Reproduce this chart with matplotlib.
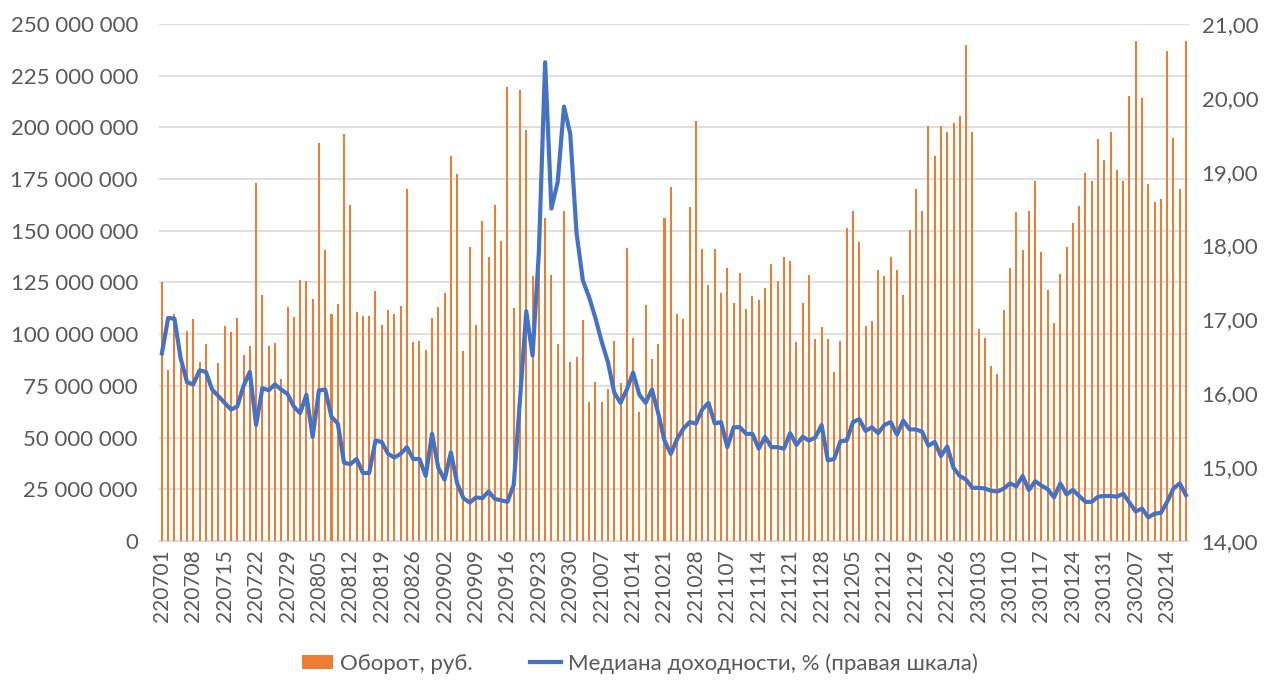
import matplotlib.pyplot as plt
from matplotlib.ticker import FuncFormatter
import numpy as np
import pandas as pd

# trading days (Moscow exchange), labels like 220701
trade_days = pd.bdate_range('2022-07-01', '2023-02-17', freq='C',
                            holidays=['2022-11-04', '2023-01-02'])
day_labels = list(trade_days.strftime('%y%m%d'))

# turnover, mln rub
turnover_mln = [
    125.0, 82.7, 109.8, 84.0, 101.6, 107.4, 86.5, 95.4, 72.0, 86.0,
    104.1, 101.0, 107.9, 90.1, 94.5, 173.3, 119.1, 94.5, 95.7, 78.2,
    113.1, 108.5, 126.3, 125.8, 116.9, 192.3, 140.8, 109.8, 114.4, 196.8,
    162.5, 110.8, 109.0, 108.7, 121.0, 104.2, 111.5, 109.5, 113.6, 170.0,
    96.0, 96.8, 92.2, 107.9, 113.1, 120.1, 186.1, 177.4, 91.7, 142.0,
    104.2, 154.8, 137.2, 162.2, 145.2, 219.5, 112.8, 217.9, 198.8, 128.3,
    132.0, 156.3, 128.6, 95.0, 159.3, 86.5, 89.1, 106.7, 67.2, 76.9,
    67.2, 73.3, 96.7, 76.3, 141.8, 98.0, 62.6, 114.0, 87.8, 95.2,
    156.0, 171.3, 109.8, 107.4, 161.7, 202.9, 141.1, 124.0, 141.1, 120.1,
    132.2, 115.0, 129.8, 112.0, 118.6, 116.4, 122.2, 133.9, 125.5, 137.5,
    135.2, 96.0, 115.0, 128.5, 97.5, 103.3, 97.5, 81.5, 96.8, 151.2,
    159.4, 144.6, 104.1, 106.2, 130.9, 128.1, 137.2, 130.9, 119.1, 150.4,
    170.1, 159.4, 200.4, 185.9, 200.4, 197.6, 202.2, 205.4, 240.0, 197.6,
    102.6, 98.3, 84.5, 80.7, 111.7, 132.2, 158.9, 140.8, 159.7, 174.1,
    139.5, 121.4, 105.2, 129.3, 142.0, 153.5, 161.9, 177.7, 173.8, 194.3,
    184.1, 197.6, 179.5, 174.2, 215.2, 241.8, 214.1, 172.4, 163.9, 165.2,
    237.1, 194.8, 170.0, 241.8]

# median yield, %
yield_pct = [
    16.54, 17.02, 17.01, 16.47, 16.15, 16.12, 16.31, 16.29, 16.05, 15.96,
    15.87, 15.78, 15.82, 16.10, 16.29, 15.57, 16.07, 16.04, 16.12, 16.05,
    15.99, 15.82, 15.73, 15.98, 15.41, 16.04, 16.05, 15.68, 15.59, 15.06,
    15.04, 15.11, 14.92, 14.92, 15.36, 15.34, 15.18, 15.13, 15.18, 15.27,
    15.11, 15.11, 14.88, 15.45, 14.99, 14.83, 15.20, 14.78, 14.58, 14.52,
    14.59, 14.58, 14.67, 14.57, 14.55, 14.53, 14.76, 15.91, 17.11, 16.51,
    17.90, 20.48, 18.50, 18.86, 19.88, 19.51, 18.17, 17.53, 17.30, 17.02,
    16.70, 16.42, 16.01, 15.87, 16.05, 16.28, 15.98, 15.87, 16.05, 15.73,
    15.36, 15.18, 15.38, 15.52, 15.61, 15.59, 15.78, 15.87, 15.59, 15.61,
    15.27, 15.54, 15.54, 15.45, 15.45, 15.25, 15.41, 15.27, 15.27, 15.25,
    15.46, 15.30, 15.41, 15.36, 15.40, 15.57, 15.09, 15.11, 15.35, 15.36,
    15.61, 15.65, 15.49, 15.54, 15.46, 15.57, 15.61, 15.44, 15.63, 15.51,
    15.51, 15.48, 15.29, 15.34, 15.15, 15.28, 14.99, 14.88, 14.83, 14.72,
    14.72, 14.71, 14.68, 14.67, 14.71, 14.78, 14.74, 14.88, 14.69, 14.81,
    14.75, 14.70, 14.59, 14.78, 14.63, 14.69, 14.61, 14.53, 14.53, 14.60,
    14.61, 14.61, 14.60, 14.64, 14.52, 14.40, 14.44, 14.32, 14.37, 14.38,
    14.53, 14.71, 14.78, 14.62]

orange = '#ED7D31'
blue = '#4472C4'
txt = '#595959'
plt.rcParams['font.family'] = ['Lato', 'DejaVu Sans']

x = np.arange(len(day_labels))
turnover = np.array(turnover_mln) * 1e6

fig = plt.figure(figsize=(12.8, 6.96), dpi=100)
ax = fig.add_axes([0.124, 0.2227, 0.805, 0.743])
ax.bar(x, turnover, width=0.32, color=orange, linewidth=0, antialiased=False,
       label='Оборот, руб.', zorder=2)
ax.set_xlim(-0.5, len(x) - 0.5)
ax.set_ylim(0, 250e6)
ax.set_yticks(np.arange(0, 250e6 + 1, 25e6))
ax.yaxis.set_major_formatter(FuncFormatter(lambda v, p: f'{v:,.0f}'.replace(',', ' ')))
ax.grid(axis='y', color='#D9D9D9', lw=1.2, zorder=0)
ax.set_xticks(x[::5])
ax.set_xticklabels(day_labels[::5], rotation=90)
for s in ['top', 'right', 'left']:
    ax.spines[s].set_visible(False)
ax.spines['bottom'].set_color('#D9D9D9')
ax.tick_params(axis='y', length=0, labelsize=16, colors=txt, pad=15)
ax.tick_params(axis='x', length=0, labelsize=15, colors=txt, pad=6)

ax2 = ax.twinx()
ax2.plot(x, yield_pct, color=blue, lw=3, label='Медиана доходности, % (правая шкала)', zorder=3)
ax2.set_ylim(14, 21)
ax2.set_yticks(np.arange(14, 21.01, 1))
ax2.yaxis.set_major_formatter(FuncFormatter(lambda v, p: f'{v:.2f}'.replace('.', ',')))
for s in ['top', 'right', 'left', 'bottom']:
    ax2.spines[s].set_visible(False)
ax2.tick_params(axis='y', length=0, labelsize=16, colors=txt, pad=9)

h1, l1 = ax.get_legend_handles_labels()
h2, l2 = ax2.get_legend_handles_labels()
fig.legend(h1 + h2, l1 + l2, loc='center', bbox_to_anchor=(0.5, 0.047), ncol=2,
           frameon=False, fontsize=16, labelcolor=txt, handlelength=1.4,
           handleheight=0.6, columnspacing=2.6, handletextpad=0.3)

fig.savefig('out.png', dpi=100)
